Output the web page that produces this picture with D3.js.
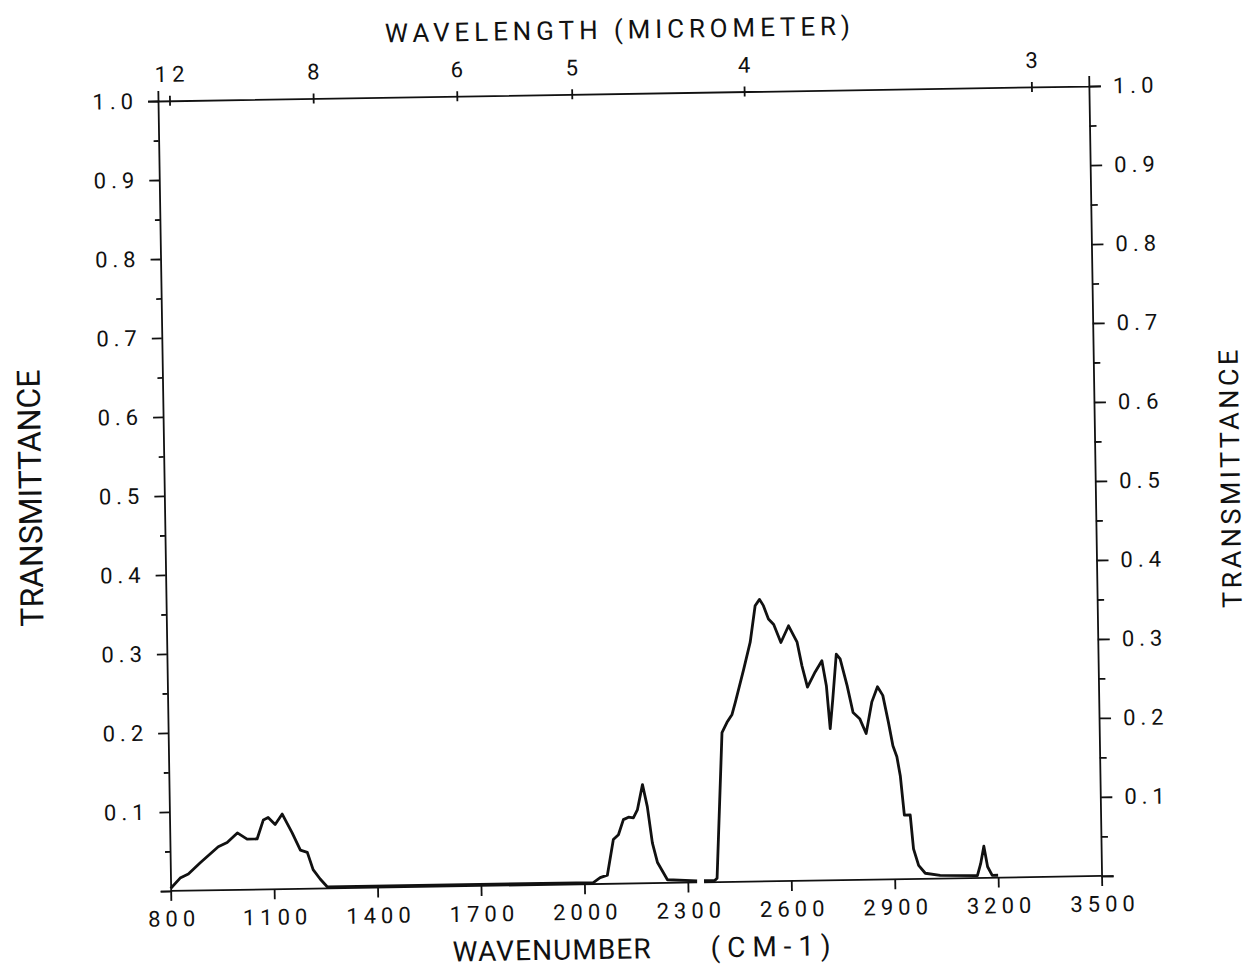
<!DOCTYPE html>
<html>
<head>
<meta charset="utf-8">
<script src="https://cdn.jsdelivr.net/npm/d3@7"></script>
<style>
body { margin: 0; background: #fff; }
text { font-family: Roboto, "DejaVu Sans", sans-serif; fill: #111; }
</style>
</head>
<body>
<div id="spectrum"></div>
<script>
// spectrum (wavenumber cm-1, transmittance), null = break in the trace
var wavenumber = [800, 828, 852, 887, 940, 966, 996, 1024, 1053, 1072, 1086, 1106, 1127, 1155, 1178, 1198, 1214, 1234, 1254,
    2026, 2046, 2067, 2086, 2101, 2116, 2131, 2145, 2157, 2173, 2186, 2199, 2213, 2241, 2327,
    2337,
    2347, 2378, 2385, 2406, 2421, 2436, 2446, 2472, 2492, 2508, 2521, 2532, 2546, 2561, 2581, 2604, 2628, 2641, 2656,
    2679, 2699, 2711, 2720, 2729, 2741, 2752, 2771, 2787, 2806, 2824, 2842, 2859, 2874, 2889, 2901, 2912, 2921, 2931,
    2948, 2956, 2970, 2989, 3032, 3140, 3150, 3160, 3170, 3183, 3200];
var transmittance = [0.003, 0.016, 0.021, 0.035, 0.055, 0.060, 0.072, 0.064, 0.064, 0.088, 0.091, 0.082, 0.095, 0.071, 0.049, 0.046, 0.024, 0.012, 0.002,
    0.002, 0.008, 0.011, 0.056, 0.062, 0.081, 0.084, 0.083, 0.093, 0.125, 0.097, 0.051, 0.026, 0.004, 0.002,
    null,
    0.002, 0.002, 0.005, 0.189, 0.202, 0.212, 0.227, 0.269, 0.303, 0.349, 0.357, 0.349, 0.332, 0.325, 0.302, 0.323, 0.302, 0.272, 0.245,
    0.264, 0.278, 0.246, 0.192, 0.230, 0.286, 0.280, 0.246, 0.212, 0.204, 0.185, 0.225, 0.244, 0.233, 0.199, 0.169, 0.155, 0.131, 0.081,
    0.081, 0.038, 0.017, 0.007, 0.004, 0.003, 0.018, 0.040, 0.014, 0.003, 0.003];

var wavenumberTicks = [800, 1100, 1400, 1700, 2000, 2300, 2600, 2900, 3200, 3500];
var wavelengthTicks = [12, 8, 6, 5, 4, 3];
var transTicks = [0, 0.1, 0.2, 0.3, 0.4, 0.5, 0.6, 0.7, 0.8, 0.9, 1.0];
var transMinor = [0.05, 0.15, 0.25, 0.35, 0.45, 0.55, 0.65, 0.75, 0.85, 0.95];
var axisBreak = [2327, 2347];

var width = 931, height = 790;
var svg = d3.select("#spectrum")
    .append("svg")
        .attr("width", 1250)
        .attr("height", 970)
    .append("g")
        // the scanned sheet sits a little askew
        .attr("transform", "translate(158,101) rotate(-0.92)");

var x = d3.scaleLinear().domain([800, 3500]).range([0, width]);
var y = d3.scaleLinear().domain([0, 1]).range([height, 0]);

var fmt = function(d) { return d === 0 ? "" : d3.format(".1f")(d); };

function styleAxis(g) {
    g.selectAll("line").attr("stroke", "#111").attr("stroke-width", 1.8);
    g.selectAll("path").attr("stroke", "#111").attr("stroke-width", 1.8);
    g.selectAll("text")
        .style("font-family", "Roboto, 'DejaVu Sans', sans-serif")
        .style("font-size", "22px")
        .style("letter-spacing", "5px")
        .attr("fill", "#111");
}

// bottom axis, drawn without domain so the break can show
var gx = svg.append("g")
    .attr("transform", "translate(0," + height + ")")
    .call(d3.axisBottom(x).tickValues(wavenumberTicks).tickFormat(d3.format("d"))
        .tickSize(10).tickPadding(10));
gx.select(".domain").remove();
styleAxis(gx);
gx.selectAll("text").attr("dx", "2.5px");
[[800, axisBreak[0]], [axisBreak[1], 3500]].forEach(function(s) {
    gx.append("line")
        .attr("x1", x(s[0])).attr("x2", x(s[1]))
        .attr("stroke", "#111").attr("stroke-width", 1.8);
});

// top axis: wavelength in micrometer
var gt = svg.append("g")
    .call(d3.axisTop(x)
        .tickValues(wavelengthTicks.map(function(l) { return 10000 / l; }))
        .tickFormat(function(d, i) { return wavelengthTicks[i]; })
        .tickSizeOuter(0)
        .tickSize(10).tickPadding(9));
styleAxis(gt);
gt.selectAll(".tick line").attr("y1", 5).attr("y2", -5);
gt.selectAll("text").attr("dx", "2.5px");

// left axis
var gl = svg.append("g")
    .call(d3.axisLeft(y).tickValues(transTicks).tickFormat(fmt).tickSizeOuter(0).tickSize(10).tickPadding(10));
styleAxis(gl);
var glm = svg.append("g")
    .call(d3.axisLeft(y).tickValues(transMinor).tickFormat("").tickSize(5));
glm.select(".domain").remove();
styleAxis(glm);

// right axis
var gr = svg.append("g")
    .attr("transform", "translate(" + width + ",0)")
    .call(d3.axisRight(y).tickValues(transTicks).tickFormat(fmt).tickSizeOuter(0).tickSize(12).tickPadding(12));
styleAxis(gr);
var grm = svg.append("g")
    .attr("transform", "translate(" + width + ",0)")
    .call(d3.axisRight(y).tickValues(transMinor).tickFormat("").tickSize(7));
grm.select(".domain").remove();
styleAxis(grm);

// titles
svg.append("text")
    .attr("x", width / 2 - 5)
    .attr("y", -55)
    .attr("text-anchor", "middle")
    .attr("textLength", 465)
    .attr("lengthAdjust", "spacing")
    .style("font-size", "26px")
    .style("white-space", "pre")
    .text("WAVELENGTH (MICROMETER)");

svg.append("text")
    .attr("x", 281)
    .attr("y", 865)
    .attr("textLength", 198)
    .attr("lengthAdjust", "spacing")
    .style("font-size", "28px")
    .text("WAVENUMBER");

svg.append("text")
    .attr("x", 539)
    .attr("y", 865)
    .attr("textLength", 120)
    .attr("lengthAdjust", "spacing")
    .style("font-size", "28px")
    .text("(CM-1)");

svg.append("text")
    .attr("transform", "translate(-134," + (height / 2) + ") rotate(-90)")
    .attr("dy", "0.35em")
    .attr("text-anchor", "middle")
    .attr("textLength", 257)
    .attr("lengthAdjust", "spacing")
    .style("font-size", "32px")
    .text("TRANSMITTANCE");

svg.append("text")
    .attr("transform", "translate(1066," + (height / 2) + ") rotate(-90)")
    .attr("dy", "0.35em")
    .attr("text-anchor", "middle")
    .attr("textLength", 258)
    .attr("lengthAdjust", "spacing")
    .style("font-size", "27px")
    .text("TRANSMITTANCE");

// the trace
var data = wavenumber.map(function(w, i) { return {w: w, t: transmittance[i]}; });
svg.append("path")
    .datum(data)
    .attr("fill", "none")
    .attr("stroke", "#111")
    .attr("stroke-width", 2.8)
    .attr("stroke-linejoin", "round")
    .attr("d", d3.line()
        .defined(function(d) { return d.t !== null; })
        .x(function(d) { return x(d.w) })
        .y(function(d) { return y(d.t) })
        );
</script>
</body>
</html>
